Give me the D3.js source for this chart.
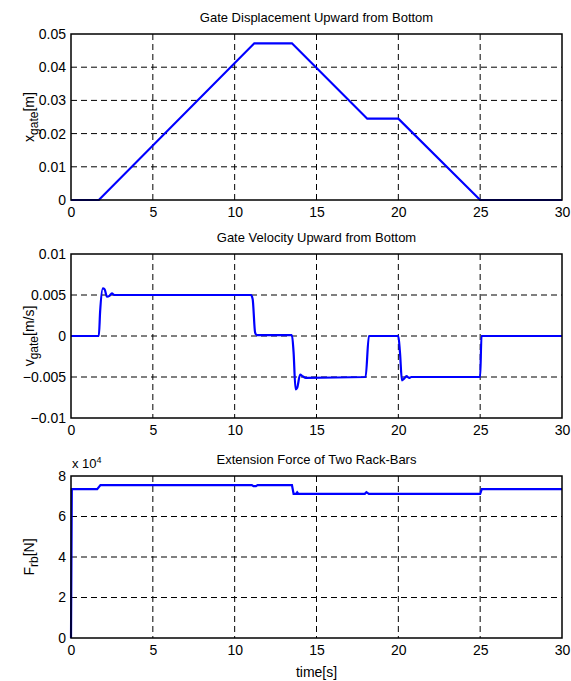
<!DOCTYPE html>
<html><head><meta charset="utf-8">
<script src="https://cdn.jsdelivr.net/npm/d3@7"></script>
<style>body{margin:0;background:#fff;} text{font-family:"Liberation Sans",Arial,sans-serif;}</style>
</head><body>
<svg id="c" width="571" height="681"></svg>
<script>
// Time ticks
const timeTicks = [0,5,10,15,20,25,30];
// Displacement (m)
const dispT = [0,1.7,11.2,13.5,18.1,20.0,25.0,30];
const dispV = [0,0,0.0472,0.0472,0.0245,0.0245,0,0];
const dispTicks = [0,0.01,0.02,0.03,0.04,0.05];
// Velocity (m/s)
const velT = [0,1.7,1.78,1.95,2.05,2.2,2.35,2.5,2.65,11.0,11.1,11.25,11.35,13.5,13.6,13.72,13.82,14.0,14.15,14.35,18.0,18.2,20.0,20.1,20.22,20.35,20.5,20.65,20.8,25.0,25.08,30];
const velV = [0,0,0.003,0.0058,0.0057,0.0048,0.0049,0.0052,0.005,0.005,0.0045,0.0004,0.0001,0.0001,-0.002,-0.0065,-0.0063,-0.0047,-0.0049,-0.0051,-0.005,0,0,-0.002,-0.0054,-0.0052,-0.0049,-0.0051,-0.005,-0.005,0,0];
const velTicks = [-0.01,-0.005,0,0.005,0.01];
// Force (x 10^4 N)
const forceT = [0,0.05,1.6,1.8,11.05,11.15,11.3,11.4,13.5,13.6,13.75,13.82,13.9,17.95,18.05,18.2,25.0,25.1,30];
const forceV = [0,7.35,7.35,7.55,7.55,7.5,7.5,7.55,7.55,7.12,7.12,7.2,7.12,7.12,7.2,7.12,7.12,7.35,7.35];
const forceTicks = [0,2,4,6,8];

const svg = d3.select("#c");
const L = 71, R = 562;
const panels = [
  {top:34, bottom:200, t:dispT, v:dispV, curve:d3.curveLinear, dom:[0,0.05], ticks:dispTicks, fmt:d=>d===0?"0":d3.format(".2f")(d), title:"Gate Displacement Upward from Bottom", lab:"x", sub:"gate", unit:"[m]", ly:117},
  {top:254, bottom:418, t:velT, v:velV, curve:d3.curveMonotoneX, dom:[-0.01,0.01], ticks:velTicks, fmt:d=>d===0?"0":(Math.abs(d)===0.01?d3.format(".2f")(d):d3.format(".3f")(d)), title:"Gate Velocity Upward from Bottom", lab:"v", sub:"gate", unit:"[m/s]", ly:336},
  {top:476, bottom:638, t:forceT, v:forceV, curve:d3.curveLinear, dom:[0,8], ticks:forceTicks, fmt:d=>String(d), title:"Extension Force of Two Rack-Bars", lab:"F", sub:"rb", unit:"[N]", ly:557}
];
const x = d3.scaleLinear().domain([0,30]).range([L,R]);

panels.forEach((p,i)=>{
  const y = d3.scaleLinear().domain(p.dom).range([p.bottom,p.top]);
  const g = svg.append("g");
  g.selectAll(".vg").data(timeTicks.slice(1,-1)).enter().append("line")
    .attr("x1",d=>x(d)).attr("x2",d=>x(d)).attr("y1",p.top).attr("y2",p.bottom)
    .attr("stroke","#000").attr("stroke-width",1).attr("stroke-dasharray","6,4");
  g.selectAll(".hg").data(p.ticks.slice(1,-1)).enter().append("line")
    .attr("x1",L).attr("x2",R).attr("y1",d=>y(d)).attr("y2",d=>y(d))
    .attr("stroke","#000").attr("stroke-width",1).attr("stroke-dasharray","6,4");
  const data = p.t.map((t,k)=>[t,p.v[k]]);
  g.append("path").datum(data)
    .attr("d", d3.line().x(d=>x(d[0])).y(d=>y(d[1])).curve(p.curve))
    .attr("fill","none").attr("stroke","#0000ff").attr("stroke-width",2.2);
  const xa = g.append("g").attr("transform",`translate(0,${p.bottom})`)
    .call(d3.axisBottom(x).tickValues(timeTicks).tickSize(0).tickPadding(7).tickFormat(d3.format("d")));
  const ya = g.append("g").attr("transform",`translate(${L},0)`)
    .call(d3.axisLeft(y).tickValues(p.ticks).tickSize(0).tickPadding(5).tickFormat(p.fmt));
  [xa,ya].forEach(a=>{a.select(".domain").remove(); a.selectAll("text").attr("font-size",14).attr("font-family","Liberation Sans, Arial, sans-serif").attr("fill","#000");});
  g.append("rect").attr("x",L).attr("y",p.top).attr("width",R-L).attr("height",p.bottom-p.top)
    .attr("fill","none").attr("stroke","#000").attr("stroke-width",1.5);
  g.append("text").attr("x",(L+R)/2).attr("y",p.top-12).attr("text-anchor","middle")
    .attr("font-size",13).text(p.title);
  const yl = g.append("text").attr("transform",`translate(34,${p.ly}) rotate(-90)`).attr("text-anchor","middle").attr("font-size",14);
  yl.append("tspan").text(p.lab);
  yl.append("tspan").attr("dy",4).attr("font-size",12).text(p.sub);
  yl.append("tspan").attr("dy",-4).text(p.unit);
});
const mx = svg.append("text").attr("x",72).attr("y",468).attr("font-size",13);
mx.append("tspan").text("x 10");
mx.append("tspan").attr("dy",-5).attr("font-size",9).text("4");
svg.append("text").attr("x",x(15)).attr("y",677).attr("text-anchor","middle").attr("font-size",14).text("time[s]");
</script>
</body></html>
